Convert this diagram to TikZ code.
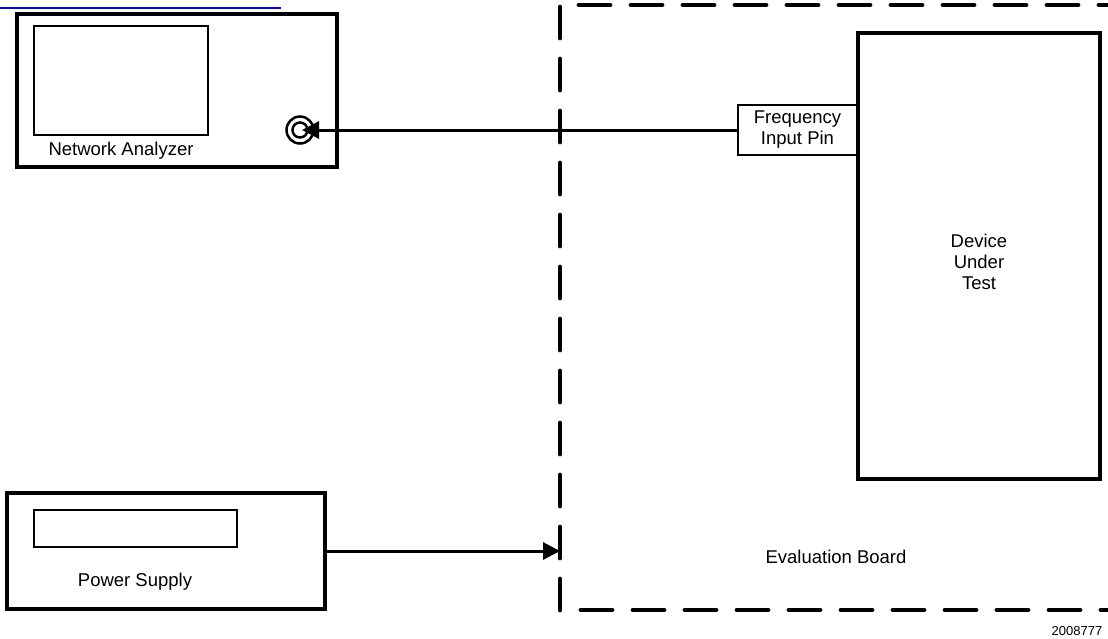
\documentclass[tikz,border=0pt]{standalone}
\usepackage{fontspec}
\setmainfont{Liberation Sans}
\usetikzlibrary{arrows.meta}

\begin{document}
\begin{tikzpicture}[x=1pt, y=-1pt]
				\tikzstyle{every node}=[inner sep=0pt, align=center, font=\fontsize{18.5}{21}\selectfont]
				\tikzstyle{unit}=[draw, rectangle, line width=4.8pt]
				\tikzstyle{panel}=[draw, rectangle, line width=2pt]
				\tikzstyle{sig}=[line width=3pt, -{Triangle[length=17pt, width=17pt]}]
				\useasboundingbox (0, 0) rectangle (1108, 638);
				\draw [blue, line width=2pt] (0, 8) -- (281, 8);
				\node [unit, minimum width=320pt, minimum height=153pt] (NA) at (177, 90.5) {};
				\node [panel, minimum width=174pt, minimum height=109pt] (NAscreen) at (121, 80.5) {};
				\node (NAlabel) at (121, 151) {Network Analyzer};
				\node [circle, draw, line width=2.5pt, minimum size=27pt] (port) at (300, 130) {};
				\node [circle, draw, line width=2.5pt, minimum size=15pt] (portin) at (300, 130) {};
				\node [panel, line width=2.5pt, minimum width=119pt, minimum height=50pt] (FIP) at (797.5, 130) {Frequency\\Input Pin};
				\node [unit, minimum width=242pt, minimum height=446pt] (DUT) at (979, 256) {};
				\node (DUTlabel) at (979, 262) {Device\\Under\\Test};
				\node [unit, minimum width=318pt, minimum height=116pt] (PS) at (166, 551) {};
				\node [panel, minimum width=203pt, minimum height=37pt] (PSscreen) at (135, 528.5) {};
				\node (PSlabel) at (135, 582) {Power Supply};
				\coordinate (bTL) at (560, 5);
				\coordinate (bBL) at (560, 610);
				\draw [line width=4.8pt, line cap=round, dash pattern=on 31pt off 21pt] (1130, 5) -- (bTL) -- (bBL) -- (1130, 610);
				\node (EBlabel) at (836, 557) {Evaluation Board};
				\node [font=\fontsize{13}{15}\selectfont] (fig) at (1077, 631) {2008777};
				\draw [sig] (FIP.west) -- ([xshift=2pt]port.center);
				\draw [sig] (PS.east) -- (PS.east -| bTL);
		\end{tikzpicture}
\end{document}
